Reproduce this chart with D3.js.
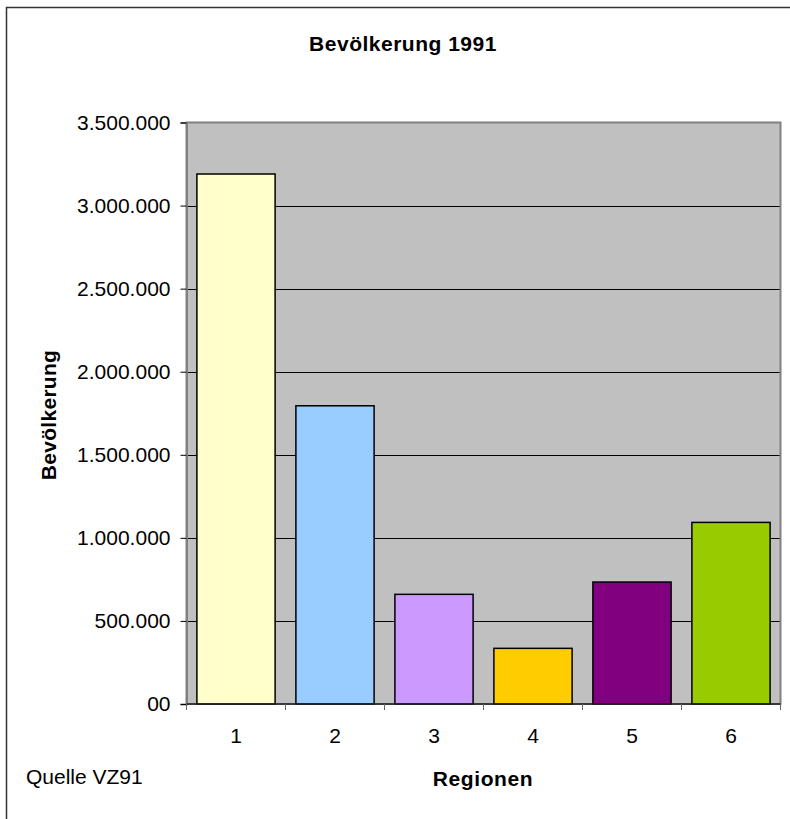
<!DOCTYPE html>
<html><head><meta charset="utf-8">
<script src="https://cdn.jsdelivr.net/npm/d3@7"></script>
<style>html,body{margin:0;background:#fff;overflow:hidden}svg{display:block}</style>
</head><body>
<script>
const categories = ["1","2","3","4","5","6"];
const population = [3190000, 1795000, 660000, 335000, 734000, 1093000];
const barColors = ["#FFFFCC","#99CCFF","#CC99FF","#FFCC00","#800080","#99CC00"];
const yTickValues = [0,500000,1000000,1500000,2000000,2500000,3000000,3500000];
const yTickLabels = ["00","500.000","1.000.000","1.500.000","2.000.000","2.500.000","3.000.000","3.500.000"];
const title = "Bevölkerung 1991";
const xTitle = "Regionen";
const yTitle = "Bevölkerung";
const source = "Quelle VZ91";

const W = 790, H = 819;
const m = {left:186.5, right:780.5, top:122.5, bottom:704};
const font = "Liberation Sans, Arial, sans-serif";

const svg = d3.select("body").append("svg").attr("width",W).attr("height",H);

// outer frame (only left and top edges are inside the picture)
svg.append("path").attr("d",`M6.5,${H+5}V7.5H${W+5}`)
  .attr("fill","none").attr("stroke","#333").attr("stroke-width",1.5);

const x = d3.scaleBand().domain(categories).range([m.left,m.right]).paddingInner(0.21).paddingOuter(0.105);
const y = d3.scaleLinear().domain([0,3500000]).range([m.bottom,m.top]);

// plot background
svg.append("rect").attr("x",m.left).attr("y",m.top).attr("width",m.right-m.left).attr("height",m.bottom-m.top)
  .attr("fill","#C0C0C0");

// gridlines
svg.append("g").selectAll("line").data(yTickValues.filter(v=>v>0 && v<3500000)).join("line")
  .attr("x1",m.left).attr("x2",m.right).attr("y1",d=>Math.round(y(d))+0.5).attr("y2",d=>Math.round(y(d))+0.5)
  .attr("stroke","#000").attr("stroke-width",1);

// plot border
svg.append("rect").attr("x",m.left).attr("y",m.top).attr("width",m.right-m.left).attr("height",m.bottom-m.top)
  .attr("fill","none").attr("stroke","#808080").attr("stroke-width",2);

// bars
svg.append("g").selectAll("rect").data(population).join("rect")
  .attr("x",(d,i)=>x(categories[i])).attr("width",x.bandwidth())
  .attr("y",d=>y(d)).attr("height",d=>y(0)-y(d))
  .attr("fill",(d,i)=>barColors[i]).attr("stroke","#000").attr("stroke-width",1.5);

// y axis
const yAxis = d3.axisLeft(y).tickValues(yTickValues).tickSize(6).tickPadding(10)
  .tickFormat((d,i)=>yTickLabels[i]);
const gy = svg.append("g").attr("transform",`translate(${m.left},0)`).call(yAxis);
gy.select(".domain").attr("stroke","#808080").attr("stroke-width",2);
gy.selectAll(".tick line").attr("stroke","#000");
gy.selectAll("text").attr("font-family",font).attr("font-size",21).attr("fill","#000");

// x axis
const gx = svg.append("g").attr("transform",`translate(0,${m.bottom})`);
gx.append("line").attr("x1",m.left).attr("x2",m.right).attr("y1",0).attr("y2",0).attr("stroke","#222").attr("stroke-width",1.5);
const step = x.step();
gx.selectAll(".xt").data(d3.range(categories.length+1)).join("line").attr("class","xt")
  .attr("x1",i=>m.left+i*step).attr("x2",i=>m.left+i*step).attr("y1",0).attr("y2",6)
  .attr("stroke","#666");
gx.selectAll("text").data(categories).join("text")
  .attr("x",d=>x(d)+x.bandwidth()/2).attr("y",39)
  .attr("text-anchor","middle").attr("font-family",font).attr("font-size",21).text(d=>d);

// titles
svg.append("text").attr("x",403).attr("y",51).attr("text-anchor","middle")
  .attr("font-family",font).attr("font-size",21).attr("font-weight","bold").attr("letter-spacing",0.5).text(title);
svg.append("text").attr("x",483).attr("y",786).attr("text-anchor","middle")
  .attr("font-family",font).attr("font-size",21).attr("font-weight","bold").attr("letter-spacing",0.6).text(xTitle);
svg.append("text").attr("transform","translate(56,415) rotate(-90)").attr("text-anchor","middle")
  .attr("font-family",font).attr("font-size",21).attr("font-weight","bold").attr("letter-spacing",0.3).text(yTitle);
svg.append("text").attr("x",26).attr("y",784)
  .attr("font-family",font).attr("font-size",21).text(source);
</script>
</body></html>
